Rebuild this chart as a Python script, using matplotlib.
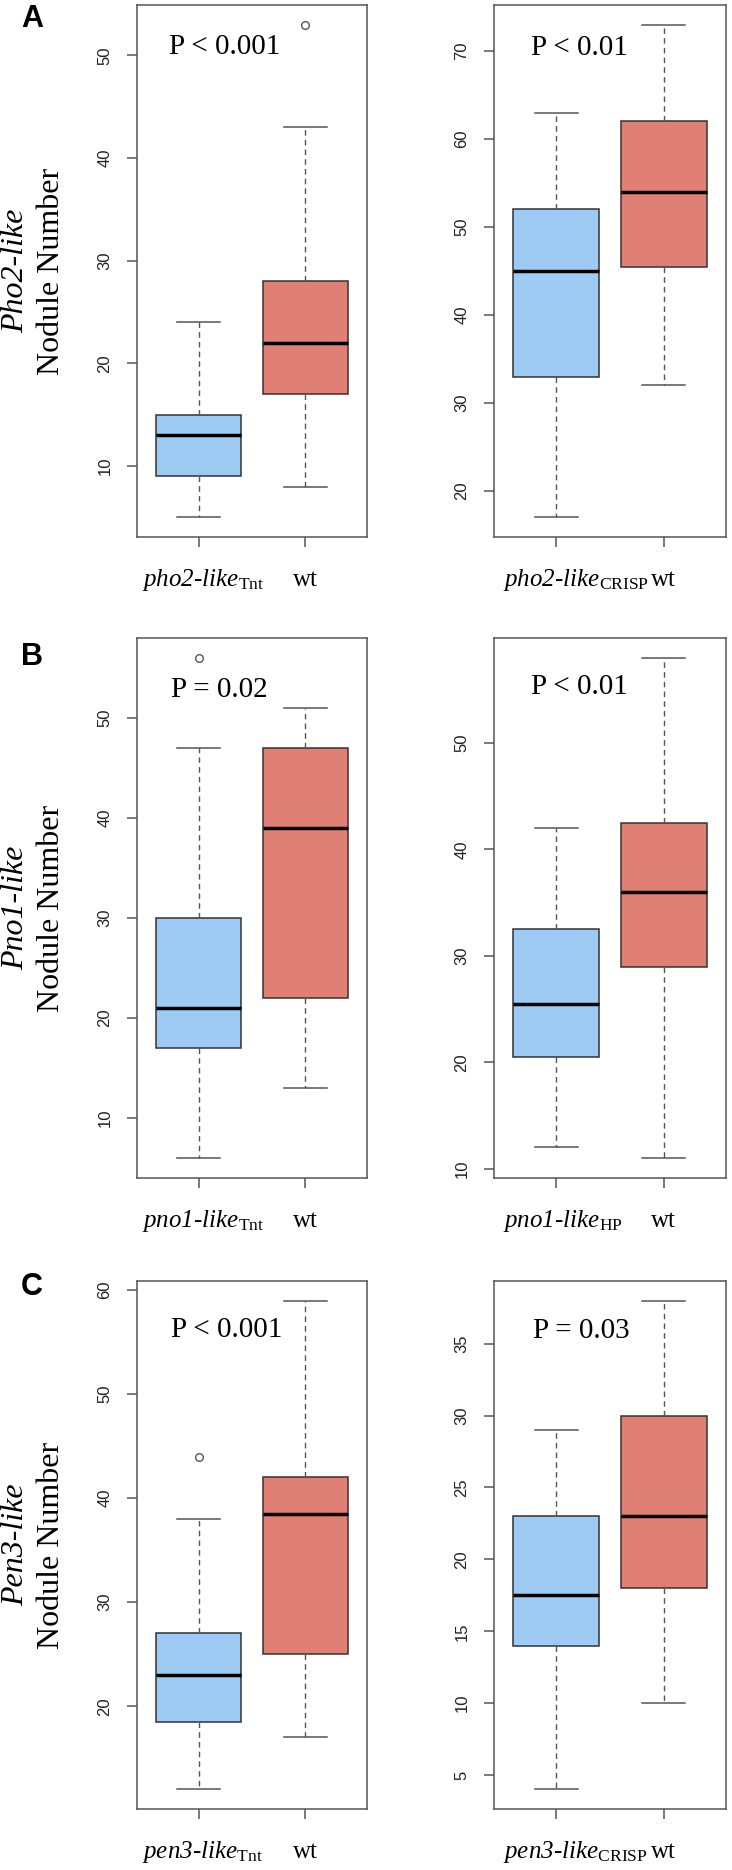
import matplotlib
matplotlib.use("Agg")
import matplotlib.pyplot as plt
import matplotlib.transforms as mtransforms
from matplotlib.ticker import MultipleLocator

plt.rcParams["mathtext.fontset"] = "custom"
plt.rcParams["mathtext.rm"] = "Liberation Serif"
plt.rcParams["mathtext.it"] = "Liberation Serif:italic"

# data: [whisker low, Q1, median, Q3, whisker high]
genes = ["Pho2-like", "Pno1-like", "Pen3-like"]
panel_letters = ["A", "B", "C"]
mutant_names = ["pho2-like", "pho2-like", "pno1-like", "pno1-like", "pen3-like", "pen3-like"]
mutant_alleles = ["Tnt", "CRISP", "Tnt", "HP", "Tnt", "CRISP"]
p_values = ["P < 0.001", "P < 0.01", "P = 0.02", "P < 0.01", "P < 0.001", "P = 0.03"]

mut_stats = [
    [5, 9, 13, 15, 24],
    [17, 33, 45, 52, 63],
    [6, 17, 21, 30, 47],
    [12, 20.5, 25.5, 32.5, 42],
    [12, 18.5, 23, 27, 38],
    [4, 14, 17.5, 23, 29],
]
mut_outliers = [[], [], [56], [], [44], []]

wt_stats = [
    [8, 17, 22, 28, 43],
    [32, 45.5, 54, 62, 73],
    [13, 22, 39, 47, 51],
    [11, 29, 36, 42.5, 58],
    [17, 25, 38.5, 42, 59],
    [10, 18, 23, 30, 38],
]
wt_outliers = [[53], [], [], [], [], []]

# layout (pixels in a 732x1870 figure)
W, H = 732, 1870
col_x = [(137, 230), (494, 232)]
row_y = [(5, 537), (638, 1178), (1281, 1809)]
tick_step = [10, 10, 10, 10, 10, 5]
p_pos = [(0.38, 0.907), (0.37, 0.906), (0.36, 0.890), (0.37, 0.897), (0.39, 0.893), (0.375, 0.892)]
letter_y = [19, 657, 1287]
label_x = [0.022, 0.039]

blue = "#9ECBF4"
red = "#E08074"
gray = "#555555"

fig = plt.figure(figsize=(W / 100, H / 100), dpi=100)

def make_stats(s, fl):
    return dict(whislo=s[0], q1=s[1], med=s[2], q3=s[3], whishi=s[4], fliers=fl)

for i in range(6):
    r, c = divmod(i, 2)
    x0, w = col_x[c]
    top, bot = row_y[r]
    ax = fig.add_axes([x0 / W, 1 - bot / H, w / W, (bot - top) / H])

    stats = [make_stats(mut_stats[i], mut_outliers[i]), make_stats(wt_stats[i], wt_outliers[i])]
    res = ax.bxp(stats, positions=[1, 2], widths=0.8, capwidths=0.4, patch_artist=True,
                 boxprops=dict(edgecolor="#333333", linewidth=1.1),
                 medianprops=dict(color="black", linewidth=2.5),
                 whiskerprops=dict(color=gray, linewidth=1.0, linestyle=(0, (4, 3))),
                 capprops=dict(color=gray, linewidth=1.1),
                 flierprops=dict(marker="o", markerfacecolor="none", markeredgecolor=gray,
                                 markersize=5.5, markeredgewidth=1.0))
    for patch, col in zip(res["boxes"], [blue, red]):
        patch.set_facecolor(col)

    allv = mut_stats[i] + wt_stats[i] + mut_outliers[i] + wt_outliers[i]
    lo, hi = min(allv), max(allv)
    ax.set_ylim(lo - 0.04 * (hi - lo), hi + 0.04 * (hi - lo))
    ax.set_xlim(0.5 - 0.08, 2.5 + 0.08)
    ax.yaxis.set_major_locator(MultipleLocator(tick_step[i]))
    ax.set_xticks([1, 2], ["", ""])

    for sp in ax.spines.values():
        sp.set_color(gray)
        sp.set_linewidth(1.1)
    ax.tick_params(direction="out", length=7.2, width=1.1, color=gray)
    ax.tick_params(axis="y", pad=10.5, labelsize=12, labelcolor="#222222")
    for lab in ax.get_yticklabels():
        lab.set_rotation(90)
        lab.set_family("Liberation Sans")
        lab.set_va("center")

    ax.text(p_pos[i][0], p_pos[i][1], p_values[i], transform=ax.transAxes,
            ha="center", va="baseline", fontsize=21, family="Liberation Serif")

    ax.annotate(mutant_names[i] + r"$_{\mathrm{" + mutant_alleles[i] + "}}$",
                xy=(label_x[c], 0), xycoords="axes fraction",
                xytext=(0, -35), textcoords="offset points",
                ha="left", va="baseline", fontsize=18, fontstyle="italic",
                family="Liberation Serif")
    ax.annotate("wt", xy=(2, 0), xycoords=ax.get_xaxis_transform(),
                xytext=(0, -35), textcoords="offset points",
                ha="center", va="baseline", fontsize=18, family="Liberation Serif")

    if c == 0:
        tr = mtransforms.blended_transform_factory(fig.transFigure, ax.transAxes)
        ax.text(16 / W, 0.5, genes[r], transform=tr, rotation=90, ha="center", va="center",
                fontsize=23, fontstyle="italic", family="Liberation Serif")
        ax.text(52 / W, 0.5, "Nodule Number", transform=tr, rotation=90, ha="center",
                va="center", fontsize=23, family="Liberation Serif")
        fig.text(32 / W, 1 - letter_y[r] / H, panel_letters[r], ha="center", va="center",
                 fontsize=22, fontweight="bold", family="Liberation Sans")

fig.savefig("out.png", dpi=100)
